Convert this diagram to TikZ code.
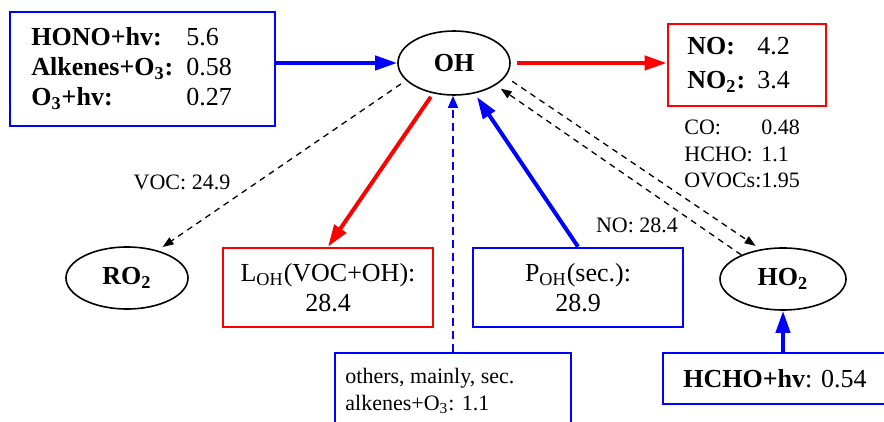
\documentclass[tikz,border=0pt]{standalone}
\usepackage{fontspec}
\setmainfont{Liberation Serif}
\usetikzlibrary{arrows.meta,shapes.geometric}
\begin{document}
\begin{tikzpicture}[x=0.5pt,y=-0.5pt,
  big/.style={font=\fontsize{13}{15}\selectfont},
  small/.style={font=\fontsize{11}{13.25}\selectfont},
  bluebox/.style={draw=blue, line width=1.3pt, inner sep=0pt},
  redbox/.style={draw=red, line width=1.3pt, inner sep=0pt},
  species/.style={ellipse, draw, line width=0.8pt, inner sep=0pt, font=\fontsize{13}{15}\selectfont\bfseries},
  thickarr/.style={line width=2pt, -{Triangle[length=11pt,width=7pt]}},
  dasharr/.style={line width=0.65pt, dash pattern=on 3pt off 2.5pt, -{Triangle[length=5.5pt,width=4pt]}},
  txt/.style={inner sep=0pt}
]
\useasboundingbox (0,0) rectangle (884,422);

% boxes and species
\node[bluebox, minimum width=132.5pt, minimum height=57pt] (src) at (142.5,69) {};
\node[txt, big, anchor=west] (srct) at (31,70) {\begin{tabular}{@{}p{77.5pt}@{}l@{}}\textbf{HONO+hv:} & 5.6\\ \textbf{Alkenes+O\textsubscript{3}:} & 0.58\\ \textbf{O\textsubscript{3}+hv:} & 0.27\end{tabular}};

\node[species, minimum width=56pt, minimum height=32pt] (OH) at (454,63) {OH};

\node[redbox, minimum width=79pt, minimum height=41pt] (nob) at (747,65) {};
\node[txt, anchor=west, font=\fontsize{13}{17}\selectfont] (nobt) at (687,65) {\begin{tabular}{@{}p{35pt}@{}l@{}}\textbf{NO:} & 4.2\\ \textbf{NO\textsubscript{2}:} & 3.4\end{tabular}};

\node[txt, small, anchor=west] (colist) at (684,156) {\begin{tabular}{@{}l@{}l@{}}CO: & 0.48\\ HCHO: & 1.1\\ OVOCs: & 1.95\end{tabular}};

\node[species, minimum width=61pt, minimum height=31pt] (RO2) at (127,278) {RO\textsubscript{2}};

\node[redbox, big, align=center, minimum width=105pt, minimum height=39.5pt] (loh) at (328,287.5) {L\textsubscript{OH}(VOC+OH):\\28.4};
\node[bluebox, big, align=center, minimum width=105pt, minimum height=39.5pt] (poh) at (578,287.5) {P\textsubscript{OH}(sec.):\\28.9};

\node[species, minimum width=63pt, minimum height=31pt] (HO2) at (783,279) {HO\textsubscript{2}};

\node[bluebox, minimum width=118pt, minimum height=46pt] (othb) at (453,399) {};
\node[txt, small, align=left, anchor=west, font=\fontsize{11}{13.5}\selectfont] (otht) at (345,391) {others, mainly, sec.\\alkenes+O\textsubscript{3}: 1.1};

\node[bluebox, minimum width=118.5pt, minimum height=25.5pt] (hchob) at (781.5,378.5) {};
\node[txt, big, anchor=west] (hchot) at (683,379) {\textbf{HCHO+hv}: 0.54};

% labels
\node[txt, small] (voc) at (182,182) {VOC: 24.9};
\node[txt, small] (nol) at (637,225) {NO: 28.4};

% connectors
\draw[thickarr, blue] (src.east |- OH.west) -- (OH.west);
\draw[thickarr, red, shorten <=3pt] (OH.east) -- (OH.east -| nob.west);
\draw[thickarr, red, shorten <=2pt] (OH) -- (loh.north);
\draw[dasharr, shorten <=3pt, shorten >=3pt] (OH.200) -- (RO2.42);
\draw[blue, line width=0.65pt, dash pattern=on 4pt off 2.5pt, -{Triangle[length=6pt,width=5pt]}] (othb.north) -- (othb.north |- OH.south);
\draw[thickarr, blue, shorten >=2pt] (poh.north) -- (OH);
\draw[dasharr, shorten <=4pt, shorten >=3pt] (OH.-15) -- (HO2.127);
\draw[dasharr, shorten >=3pt] (HO2.150) -- (OH.-28);
\draw[thickarr, blue] (HO2.south |- hchob.north) -- (HO2.south);
\end{tikzpicture}
\end{document}
